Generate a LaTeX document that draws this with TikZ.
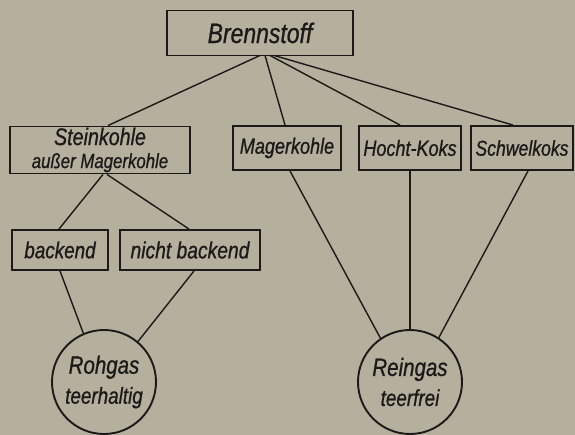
\documentclass[tikz,border=0pt]{standalone}
\usepackage{fontspec}
\newfontfamily\hand{Liberation Sans}[FakeStretch=0.82,FakeBold=0.8]
\definecolor{paper}{RGB}{181,175,158}
\definecolor{ink}{RGB}{28,26,24}
\newcommand{\fs}[1]{\fontsize{#1}{#1}\selectfont}
\begin{document}
\begin{tikzpicture}[x=1pt,y=-1pt,
  box/.style={draw=ink,line width=1.9pt,rectangle,inner sep=0pt,align=center,text=ink,font=\hand\itshape\fs{22}},
  gas/.style={draw=ink,line width=1.9pt,circle,inner sep=0pt,minimum size=104pt,align=center,text=ink,font=\hand\itshape\fs{23}},
  conn/.style={draw=ink,line width=1.4pt}]
\fill[paper] (0,0) rectangle (575,435);
\useasboundingbox (0,0) rectangle (575,435);
\node[box,minimum width=186pt,minimum height=45pt,font=\hand\itshape\fs{28}] (bren) at (260,33) {Brennstoff};
\node[box,minimum width=180pt,minimum height=47pt] (stein) at (100,150) {{\fs{24}Steinkohle}\\[1pt]{\fs{20.5}außer Magerkohle}};
\node[box,minimum width=108pt,minimum height=44pt,font=\hand\itshape\fs{22}] (mager) at (287,148) {Magerkohle};
\node[box,minimum width=102pt,minimum height=44pt,font=\hand\itshape\fs{22}] (hocht) at (410,148) {Hocht-Koks};
\node[box,minimum width=102pt,minimum height=44pt,font=\hand\itshape\fs{21.5}] (schwel) at (522,148) {Schwelkoks};
\node[box,minimum width=96pt,minimum height=40pt,font=\hand\itshape\fs{23}] (back) at (60,250) {backend};
\node[box,minimum width=140pt,minimum height=40pt,font=\hand\itshape\fs{23.5}] (nicht) at (190,250) {nicht backend};
\node[gas] (roh) at (104,382) {{\fs{25}Rohgas}\\[7pt]{\fs{23}teerhaltig}};
\node[gas] (rein) at (410,382) {{\fs{25}Reingas}\\[7pt]{\fs{23}teerfrei}};
\draw[conn] ([yshift=1pt]bren.south) -- ([xshift=8pt]stein.north);
\draw[conn] ([xshift=5pt,yshift=1pt]bren.south) -- ([xshift=-2pt]mager.north);
\draw[conn] ([xshift=10pt,yshift=1pt]bren.south) -- ([xshift=-10pt]hocht.north);
\draw[conn] ([xshift=14pt,yshift=1pt]bren.south) -- ([xshift=-9pt]schwel.north);
\draw[conn] ([xshift=3pt]stein.south) -- ([xshift=-1pt]back.north);
\draw[conn] ([xshift=7pt]stein.south) -- ([xshift=-1pt]nicht.north);
\draw[conn] (back.south) -- (roh.113);
\draw[conn] ([xshift=4pt]nicht.south) -- (roh.50);
\draw[conn] ([xshift=3pt]mager.south) -- (rein.124);
\draw[conn] (hocht.south) -- (rein.north);
\draw[conn] ([xshift=6pt]schwel.south) -- (rein.57);
\end{tikzpicture}
\end{document}
